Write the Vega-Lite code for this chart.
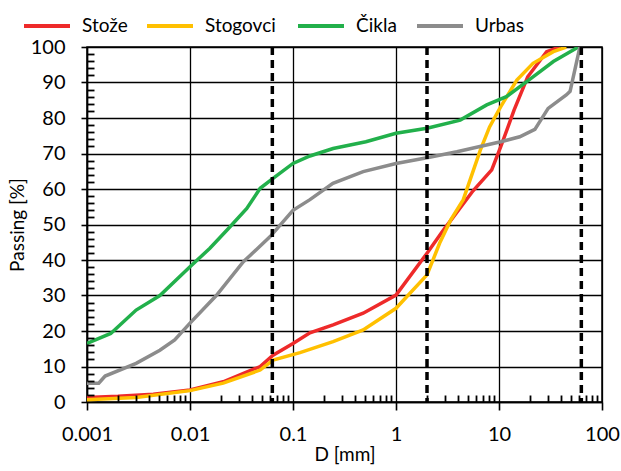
{
  "$schema": "https://vega.github.io/schema/vega-lite/v6.json",
  "width": 515,
  "height": 355,
  "autosize": "none",
  "padding": {"left": 87, "top": 47, "right": 19, "bottom": 69},
  "background": "white",
  "config": {
    "view": {"stroke": "black", "strokeWidth": 1.5},
    "font": "Lato",
    "axis": {
      "labelFont": "Lato", "labelFontSize": 20, "labelColor": "black",
      "titleFont": "Lato", "titleFontSize": 19, "titleFontWeight": "normal", "titleColor": "black",
      "domainColor": "black", "domainWidth": 1.5, "tickColor": "black", "tickWidth": 1.6,
      "gridColor": "black", "gridWidth": 1.3
    },
    "legend": {
      "labelFont": "Lato", "labelFontSize": 19, "labelColor": "black",
      "orient": "none", "direction": "horizontal",
      "symbolType": "stroke", "symbolSize": 2116, "symbolStrokeWidth": 4, "labelOffset": 10,
      "legendY": -46
    }
  },
  "datasets": {
    "curves": [
      {"site": "Stože", "d": 0.001, "p": 1.3},
      {"site": "Stože", "d": 0.002, "p": 1.6},
      {"site": "Stože", "d": 0.0044, "p": 2.2},
      {"site": "Stože", "d": 0.01, "p": 3.4},
      {"site": "Stože", "d": 0.021, "p": 5.7},
      {"site": "Stože", "d": 0.048, "p": 10},
      {"site": "Stože", "d": 0.064, "p": 13.2},
      {"site": "Stože", "d": 0.1, "p": 16.5},
      {"site": "Stože", "d": 0.146, "p": 19.5},
      {"site": "Stože", "d": 0.245, "p": 21.7},
      {"site": "Stože", "d": 0.48, "p": 25},
      {"site": "Stože", "d": 1, "p": 30.1},
      {"site": "Stože", "d": 2, "p": 41.9},
      {"site": "Stože", "d": 2.9, "p": 48.5},
      {"site": "Stože", "d": 5.6, "p": 59.5},
      {"site": "Stože", "d": 8.5, "p": 65.4},
      {"site": "Stože", "d": 10.4, "p": 71.9},
      {"site": "Stože", "d": 14, "p": 82.2},
      {"site": "Stože", "d": 19, "p": 91.6},
      {"site": "Stože", "d": 29, "p": 98.7},
      {"site": "Stože", "d": 39, "p": 100},
      {"site": "Stogovci", "d": 0.001, "p": 0.6},
      {"site": "Stogovci", "d": 0.003, "p": 1.3},
      {"site": "Stogovci", "d": 0.01, "p": 3.2},
      {"site": "Stogovci", "d": 0.021, "p": 5.3},
      {"site": "Stogovci", "d": 0.048, "p": 9},
      {"site": "Stogovci", "d": 0.064, "p": 11.8},
      {"site": "Stogovci", "d": 0.117, "p": 13.9},
      {"site": "Stogovci", "d": 0.245, "p": 17},
      {"site": "Stogovci", "d": 0.48, "p": 20.3},
      {"site": "Stogovci", "d": 1, "p": 26.4},
      {"site": "Stogovci", "d": 2, "p": 35.8},
      {"site": "Stogovci", "d": 2.65, "p": 44.7},
      {"site": "Stogovci", "d": 3.4, "p": 51.3},
      {"site": "Stogovci", "d": 4.5, "p": 57},
      {"site": "Stogovci", "d": 6.6, "p": 71},
      {"site": "Stogovci", "d": 8.1, "p": 77.5},
      {"site": "Stogovci", "d": 10.4, "p": 83.2},
      {"site": "Stogovci", "d": 14.9, "p": 90.7},
      {"site": "Stogovci", "d": 21.4, "p": 95.4},
      {"site": "Stogovci", "d": 33.7, "p": 98.7},
      {"site": "Stogovci", "d": 45, "p": 100},
      {"site": "Čikla", "d": 0.001, "p": 16.5},
      {"site": "Čikla", "d": 0.0017, "p": 19.3},
      {"site": "Čikla", "d": 0.003, "p": 25.9},
      {"site": "Čikla", "d": 0.0051, "p": 30},
      {"site": "Čikla", "d": 0.01, "p": 38.1},
      {"site": "Čikla", "d": 0.0156, "p": 43.3},
      {"site": "Čikla", "d": 0.0235, "p": 48.8},
      {"site": "Čikla", "d": 0.0356, "p": 54.5},
      {"site": "Čikla", "d": 0.048, "p": 60.2},
      {"site": "Čikla", "d": 0.064, "p": 63},
      {"site": "Čikla", "d": 0.1, "p": 67.2},
      {"site": "Čikla", "d": 0.146, "p": 69.3},
      {"site": "Čikla", "d": 0.245, "p": 71.4},
      {"site": "Čikla", "d": 0.51, "p": 73.3},
      {"site": "Čikla", "d": 1, "p": 75.7},
      {"site": "Čikla", "d": 2, "p": 77.1},
      {"site": "Čikla", "d": 4.2, "p": 79.4},
      {"site": "Čikla", "d": 7.6, "p": 83.7},
      {"site": "Čikla", "d": 11.8, "p": 86},
      {"site": "Čikla", "d": 21.4, "p": 91.6},
      {"site": "Čikla", "d": 33.7, "p": 95.9},
      {"site": "Čikla", "d": 59, "p": 100},
      {"site": "Urbas", "d": 0.001, "p": 5.3},
      {"site": "Urbas", "d": 0.0013, "p": 5.3},
      {"site": "Urbas", "d": 0.0015, "p": 7.3},
      {"site": "Urbas", "d": 0.003, "p": 10.9},
      {"site": "Urbas", "d": 0.0051, "p": 14.6},
      {"site": "Urbas", "d": 0.0071, "p": 17.5},
      {"site": "Urbas", "d": 0.01, "p": 22.2},
      {"site": "Urbas", "d": 0.018, "p": 30},
      {"site": "Urbas", "d": 0.033, "p": 39.5},
      {"site": "Urbas", "d": 0.06, "p": 46.6},
      {"site": "Urbas", "d": 0.1, "p": 54},
      {"site": "Urbas", "d": 0.146, "p": 57},
      {"site": "Urbas", "d": 0.244, "p": 61.6},
      {"site": "Urbas", "d": 0.48, "p": 64.9},
      {"site": "Urbas", "d": 1, "p": 67.2},
      {"site": "Urbas", "d": 2, "p": 68.8},
      {"site": "Urbas", "d": 3.9, "p": 70.5},
      {"site": "Urbas", "d": 10.4, "p": 73.3},
      {"site": "Urbas", "d": 15.9, "p": 74.7},
      {"site": "Urbas", "d": 22.3, "p": 76.8},
      {"site": "Urbas", "d": 30, "p": 82.7},
      {"site": "Urbas", "d": 45, "p": 86.5},
      {"site": "Urbas", "d": 49, "p": 87.5},
      {"site": "Urbas", "d": 61, "p": 100}
    ],
    "limits": [{"d": 0.063}, {"d": 2}, {"d": 63}]
  },
  "resolve": {"axis": {"x": "independent", "y": "independent"}, "scale": {"color": "independent"}},
  "layer": [
    {
      "data": {"name": "curves"},
      "mark": {"type": "line", "opacity": 0},
      "encoding": {
        "x": {
          "field": "d", "type": "quantitative",
          "scale": {"type": "log", "domain": [0.001, 100], "nice": false},
          "axis": {
            "orient": "bottom", "title": null, "zindex": 1,
            "values": [0.002, 0.003, 0.004, 0.005, 0.006, 0.007, 0.008, 0.009, 0.02, 0.03, 0.04, 0.05, 0.06, 0.07, 0.08, 0.09, 0.2, 0.3, 0.4, 0.5, 0.6, 0.7, 0.8, 0.9, 2, 3, 4, 5, 6, 7, 8, 9, 20, 30, 40, 50, 60, 70, 80, 90],
            "labels": false, "grid": false, "domain": false, "ticks": true,
            "offset": -7, "tickSize": 7, "tickColor": "#000000", "tickWidth": 1.8, "tickOpacity": 1
          }
        },
        "y": {
          "field": "p", "type": "quantitative",
          "scale": {"domain": [0, 100], "nice": false},
          "axis": {
            "orient": "left", "title": null, "zindex": 1,
            "values": [2, 4, 6, 8, 12, 14, 16, 18, 22, 24, 26, 28, 32, 34, 36, 38, 42, 44, 46, 48, 52, 54, 56, 58, 62, 64, 66, 68, 72, 74, 76, 78, 82, 84, 86, 88, 92, 94, 96, 98],
            "labels": false, "grid": false, "domain": false, "ticks": true,
            "offset": -7, "tickSize": 7, "tickColor": "#000000", "tickWidth": 1.8, "tickOpacity": 1
          }
        }
      }
    },
    {
      "data": {"name": "curves"},
      "transform": [{"filter": "datum.site === 'Stože'"}],
      "mark": {"type": "line", "strokeWidth": 3.5, "clip": true},
      "encoding": {
        "x": {
          "field": "d", "type": "quantitative",
          "scale": {"type": "log", "domain": [0.001, 100], "nice": false},
          "axis": {
            "orient": "bottom", "title": "D [mm]", "titlePadding": 1,
            "values": [0.001, 0.01, 0.1, 1, 10, 100], "format": "~g",
            "labelOverlap": false, "labelFlush": false, "labelPadding": 14,
            "tickSize": 8, "grid": true, "tickColor": "#000000"
          }
        },
        "y": {
          "field": "p", "type": "quantitative",
          "scale": {"domain": [0, 100], "nice": false},
          "axis": {
            "orient": "left", "title": "Passing [%]", "titlePadding": 3,
            "values": [0, 10, 20, 30, 40, 50, 60, 70, 80, 90, 100],
            "labelOverlap": false, "labelFlush": false, "labelPadding": 16,
            "tickSize": 6, "grid": true, "tickColor": "#000000"
          }
        },
        "color": {
          "field": "site", "type": "nominal",
          "scale": {"domain": ["Stože"], "range": ["#ee2a2a"]},
          "legend": {"title": null, "legendX": -65}
        }
      }
    },
    {
      "data": {"name": "curves"},
      "transform": [{"filter": "datum.site === 'Stogovci'"}],
      "mark": {"type": "line", "strokeWidth": 3.5, "clip": true},
      "encoding": {
        "x": {"field": "d", "type": "quantitative", "axis": null},
        "y": {"field": "p", "type": "quantitative", "axis": null},
        "color": {
          "field": "site", "type": "nominal",
          "scale": {"domain": ["Stogovci"], "range": ["#ffc000"]},
          "legend": {"title": null, "legendX": 58}
        }
      }
    },
    {
      "data": {"name": "curves"},
      "transform": [{"filter": "datum.site === 'Čikla'"}],
      "mark": {"type": "line", "strokeWidth": 3.5, "clip": true},
      "encoding": {
        "x": {"field": "d", "type": "quantitative", "axis": null},
        "y": {"field": "p", "type": "quantitative", "axis": null},
        "color": {
          "field": "site", "type": "nominal",
          "scale": {"domain": ["Čikla"], "range": ["#22b04b"]},
          "legend": {"title": null, "legendX": 209}
        }
      }
    },
    {
      "data": {"name": "curves"},
      "transform": [{"filter": "datum.site === 'Urbas'"}],
      "mark": {"type": "line", "strokeWidth": 3.5, "clip": true},
      "encoding": {
        "x": {"field": "d", "type": "quantitative", "axis": null},
        "y": {"field": "p", "type": "quantitative", "axis": null},
        "color": {
          "field": "site", "type": "nominal",
          "scale": {"domain": ["Urbas"], "range": ["#8c8c8c"]},
          "legend": {"title": null, "legendX": 328}
        }
      }
    },
    {
      "data": {"name": "limits"},
      "mark": {"type": "rule", "color": "black", "strokeWidth": 3.5, "strokeDash": [8, 5]},
      "encoding": {
        "x": {"field": "d", "type": "quantitative", "axis": null}
      }
    }
  ]
}
